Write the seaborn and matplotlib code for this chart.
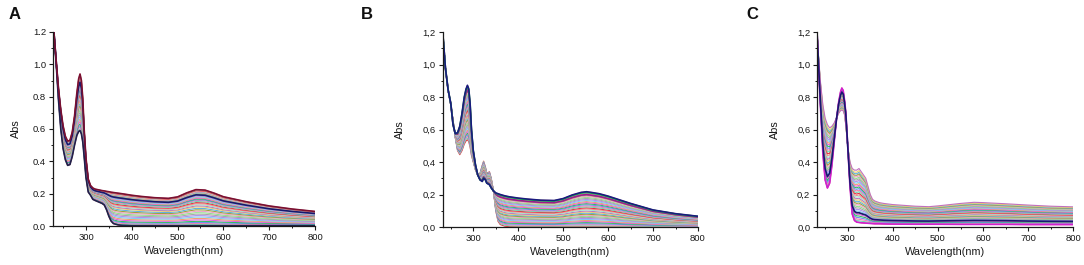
import numpy as np
import pandas as pd
import matplotlib
matplotlib.use("Agg")
import matplotlib.pyplot as plt
from matplotlib.ticker import MultipleLocator, FuncFormatter
import seaborn as sns

# ---------------- data ----------------
WL_A = [230, 235, 240, 245, 250, 255, 260, 265, 270, 275, 280, 284, 287, 290, 293, 296, 300,
        305, 310, 315, 320, 325, 330, 335, 340, 345, 350, 355, 360, 370, 380, 400, 420,
        450, 480, 500, 520, 540, 560, 580, 600, 650, 700, 750, 800]
A_START = [1.20, 1.00, 0.78, 0.60, 0.48, 0.41, 0.375, 0.38, 0.43, 0.50, 0.56, 0.585, 0.59, 0.57, 0.52, 0.43, 0.30,
           0.21, 0.19, 0.165, 0.158, 0.152, 0.146, 0.14, 0.13, 0.10, 0.06, 0.03, 0.015, 0.007, 0.004, 0.002, 0.002,
           0.002, 0.002, 0.002, 0.002, 0.002, 0.002, 0.002, 0.002, 0.002, 0.002, 0.002, 0.002]
A_END = [1.20, 1.02, 0.85, 0.72, 0.62, 0.555, 0.525, 0.53, 0.58, 0.68, 0.82, 0.91, 0.94, 0.90, 0.79, 0.60, 0.42,
         0.29, 0.25, 0.235, 0.228, 0.225, 0.222, 0.219, 0.217, 0.214, 0.212, 0.209, 0.207, 0.203, 0.199, 0.19, 0.183,
         0.175, 0.171, 0.18, 0.205, 0.225, 0.222, 0.203, 0.181, 0.15, 0.124, 0.105, 0.09]
A_FRAC = [0.0, 0.03, 0.06, 0.09, 0.12, 0.16, 0.2, 0.24, 0.28, 0.32, 0.36, 0.4, 0.44, 0.48, 0.52,
          0.55, 0.58, 0.61, 0.64, 0.67, 0.7, 0.72, 0.74, 0.76, 0.78, 0.8, 0.82, 0.84, 0.855,
          0.87, 0.885, 0.9, 0.915, 0.93, 0.945, 0.96, 0.975, 0.99, 1.0]
A_THICK = {0: "#20204a", 28: "#181870", 38: "#7a1030"}

WL_B = [232, 238, 244, 250, 255, 260, 265, 270, 275, 280, 284, 287, 290, 293, 296, 300, 305,
        310, 315, 320, 323, 327, 330, 333, 336, 340, 345, 350, 355, 360, 370, 380, 400,
        420, 450, 480, 500, 520, 540, 552, 560, 580, 600, 650, 700, 750, 800]
B_START = [1.20, 0.98, 0.84, 0.75, 0.66, 0.55, 0.47, 0.445, 0.47, 0.51, 0.53, 0.537, 0.525, 0.49, 0.44, 0.40, 0.35,
           0.32, 0.33, 0.38, 0.405, 0.37, 0.33, 0.335, 0.34, 0.30, 0.22, 0.10, 0.035, 0.015, 0.005, 0.002, 0.001,
           0.001, 0.001, 0.001, 0.001, 0.001, 0.001, 0.001, 0.001, 0.001, 0.001, 0.001, 0.001, 0.001, 0.001]
B_END = [1.20, 0.98, 0.845, 0.76, 0.63, 0.575, 0.58, 0.62, 0.70, 0.80, 0.85, 0.872, 0.85, 0.76, 0.60, 0.47, 0.38,
         0.32, 0.29, 0.28, 0.30, 0.29, 0.27, 0.265, 0.26, 0.24, 0.222, 0.21, 0.205, 0.20, 0.192, 0.186, 0.178,
         0.172, 0.165, 0.163, 0.175, 0.197, 0.213, 0.217, 0.214, 0.205, 0.19, 0.145, 0.105, 0.082, 0.066]
B_FRAC = [0.0, 0.03, 0.06, 0.09, 0.12, 0.15, 0.18, 0.21, 0.24, 0.27, 0.3, 0.33, 0.36, 0.39,
          0.42, 0.45, 0.48, 0.51, 0.54, 0.57, 0.6, 0.63, 0.66, 0.69, 0.72, 0.75, 0.78, 0.81,
          0.84, 0.87, 0.9, 0.92, 0.94, 0.96, 0.98, 1.0]
B_THICK = {31: "#a01890", 34: "#10c040", 35: "#1a1a80"}

WL_C = [232, 236, 240, 245, 250, 255, 260, 265, 270, 275, 280, 284, 287, 290, 293, 296, 300,
        305, 310, 315, 320, 325, 330, 335, 340, 345, 350, 355, 360, 370, 380, 400, 450,
        480, 500, 550, 580, 600, 650, 700, 750, 800]
C_START = [1.20, 0.95, 0.72, 0.45, 0.29, 0.24, 0.27, 0.38, 0.52, 0.66, 0.77, 0.83, 0.855, 0.84, 0.78, 0.70, 0.50,
           0.25, 0.08, 0.04, 0.03, 0.028, 0.026, 0.025, 0.024, 0.023, 0.022, 0.021, 0.02, 0.02, 0.019, 0.018, 0.017,
           0.017, 0.017, 0.016, 0.016, 0.016, 0.016, 0.015, 0.015, 0.015]
C_END = [1.20, 1.02, 0.88, 0.75, 0.67, 0.63, 0.61, 0.62, 0.64, 0.67, 0.70, 0.715, 0.72, 0.715, 0.69, 0.62, 0.50,
         0.40, 0.36, 0.35, 0.35, 0.36, 0.34, 0.32, 0.30, 0.25, 0.20, 0.17, 0.16, 0.15, 0.145, 0.138, 0.128,
         0.125, 0.13, 0.145, 0.152, 0.15, 0.143, 0.135, 0.128, 0.124]
C_FRAC = [0.0, 0.03, 0.06, 0.09, 0.12, 0.15, 0.18, 0.21, 0.24, 0.27, 0.3, 0.33, 0.36, 0.39,
          0.42, 0.45, 0.48, 0.51, 0.54, 0.57, 0.6, 0.63, 0.66, 0.69, 0.72, 0.75, 0.78, 0.81,
          0.84, 0.87, 0.9, 0.93, 0.96, 1.0]
C_THICK = {0: "#d020d0", 6: "#181870"}

PALETTE = ["#e83040", "#70d8b0", "#f080b0", "#7090f0", "#30c060", "#e060e0", "#f0a070",
           "#80d0f0", "#b090f0", "#a8a8a8", "#90e090", "#f0a0c8", "#a0a040", "#60b0e0",
           "#e8d070", "#c070c0", "#a0e8d0", "#f09090"]

PANEL_LABELS = ["A", "B", "C"]
X_LABEL = "Wavelength(nm)"
Y_LABEL = "Abs"

# ---------------- helpers ----------------
def build(wl, s0, s1, fracs):
    wl = np.asarray(wl, float)
    s0 = np.asarray(s0, float)
    s1 = np.asarray(s1, float)
    frames = []
    for i, f in enumerate(fracs):
        frames.append(pd.DataFrame({"wl": wl, "abs": s0 + f * (s1 - s0), "curve": i}))
    return pd.concat(frames, ignore_index=True)


sns.set_style("ticks")
plt.rcParams["font.family"] = ["Liberation Sans", "DejaVu Sans"]

fig = plt.figure(figsize=(10.84, 2.65), dpi=100)

panels = [
    (WL_A, A_START, A_END, A_FRAC, A_THICK, [53, 315, 32, 226], ".", 228),
    (WL_B, B_START, B_END, B_FRAC, B_THICK, [442.7, 698, 32, 227], ",", 232),
    (WL_C, C_START, C_END, C_FRAC, C_THICK, [817.3, 1073.3, 32, 227], ",", 232.6),
]
letter_x = [9, 361, 746]
ylab_right = [21, 405, 780]

W, H = 1084.0, 265.0
for k, (wl, s0, s1, fr, thick, box, dec, xmin) in enumerate(panels):
    l, r, t, b = box
    ax = fig.add_axes([l / W, 1 - b / H, (r - l) / W, (b - t) / H])
    df = build(wl, s0, s1, fr)
    n = len(fr)
    pal = {i: PALETTE[i % len(PALETTE)] for i in range(n)}
    sns.lineplot(data=df, x="wl", y="abs", hue="curve", palette=pal, legend=False,
                 linewidth=0.8, ax=ax, estimator=None, sort=False)
    dth = df[df["curve"].isin(list(thick.keys()))]
    sns.lineplot(data=dth, x="wl", y="abs", hue="curve", palette=thick, legend=False,
                 linewidth=1.2, ax=ax, estimator=None, sort=False)

    ax.set_xlim(xmin, 800)
    ax.set_ylim(0, 1.2)
    ax.xaxis.set_major_locator(MultipleLocator(100))
    ax.xaxis.set_minor_locator(MultipleLocator(50))
    ax.yaxis.set_major_locator(MultipleLocator(0.2))
    ax.yaxis.set_minor_locator(MultipleLocator(0.1))
    ax.yaxis.set_major_formatter(FuncFormatter(lambda v, p, d=dec: f"{v:.1f}".replace(".", d)))
    ax.xaxis.set_major_formatter(FuncFormatter(lambda v, p: f"{v:.0f}"))
    ax.tick_params(which="major", direction="out", length=3, width=0.8, labelsize=6.8,
                   pad=2, colors="#1a1a1a")
    ax.tick_params(which="minor", direction="out", length=1.6, width=0.7, colors="#1a1a1a")
    for s in ["top", "right"]:
        ax.spines[s].set_visible(False)
    for s in ["left", "bottom"]:
        ax.spines[s].set_linewidth(0.9)
        ax.spines[s].set_color("#1a1a1a")
    ax.set_xlabel(X_LABEL, fontsize=7.8, color="#1a1a1a")
    ax.set_ylabel(Y_LABEL, fontsize=7.8, color="#1a1a1a")
    wpx = r - l
    hpx = b - t
    ax.yaxis.set_label_coords(-(l - ylab_right[k]) / wpx, 0.5)
    ax.xaxis.set_label_coords(0.5, -20.0 / hpx)
    fig.text(letter_x[k] / W, 1 - 7 / H, PANEL_LABELS[k], fontsize=12, fontweight="bold",
             ha="left", va="top", color="#111111")

fig.savefig("out.png", dpi=100)
